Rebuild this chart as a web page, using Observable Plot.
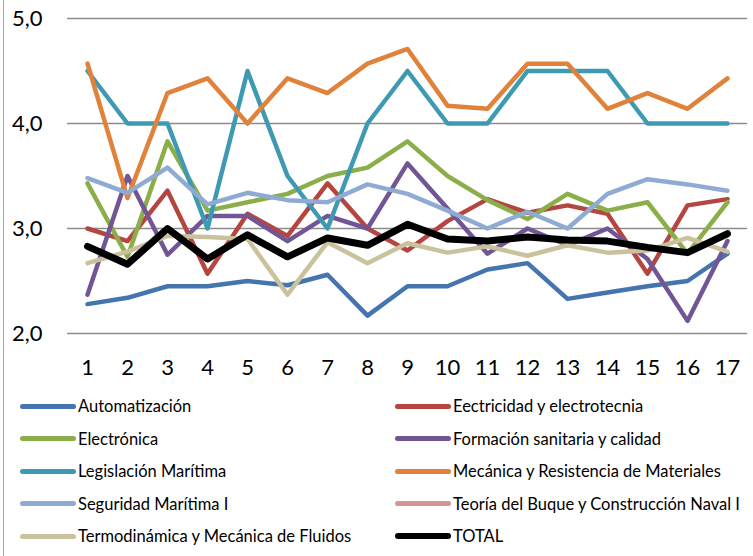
<!DOCTYPE html>
<html>
<head>
<meta charset="utf-8">
<script src="https://cdn.jsdelivr.net/npm/d3@7"></script>
<script src="https://cdn.jsdelivr.net/npm/@observablehq/plot@0.6"></script>
<style>
  body { margin: 0; background: #fff; font-family: Lato, "Open Sans", sans-serif; }
  #wrap { position: relative; width: 753px; height: 556px; overflow: hidden; background: #fff; }
  #border { position: absolute; left: 3px; top: 0; bottom: 0; border-left: 1.5px solid #a6a6a6; }
  #legend { display: grid; grid-template-columns: 375px 358px; grid-auto-rows: 32.5px; padding: 5px 0 0 20px; }
  .item { display: flex; align-items: center; font-size: 16.5px; color: #000; white-space: nowrap; }
  .sw { display: inline-block; width: 56px; height: 5px; border-radius: 3px; margin-right: 2px; }
</style>
</head>
<body>
<div id="wrap"><div id="border"></div><div id="chart"></div><div id="legend"></div></div>
<script>
const periods = [1,2,3,4,5,6,7,8,9,10,11,12,13,14,15,16,17];
const yTicks = [2,3,4,5];

const automatizacion = [2.28,2.34,2.45,2.45,2.50,2.46,2.56,2.17,2.45,2.45,2.61,2.67,2.33,2.39,2.45,2.50,2.76];
const electricidad   = [3.00,2.88,3.36,2.57,3.14,2.93,3.43,3.00,2.79,3.07,3.28,3.15,3.22,3.14,2.57,3.22,3.28];
const electronica    = [3.43,2.73,3.83,3.17,3.25,3.33,3.50,3.58,3.83,3.50,3.27,3.09,3.33,3.17,3.25,2.76,3.25];
const formacion      = [2.37,3.50,2.75,3.12,3.12,2.88,3.12,3.00,3.62,3.19,2.76,3.00,2.84,3.00,2.71,2.12,2.88];
const legislacion    = [4.50,4.00,4.00,3.00,4.50,3.50,3.00,4.00,4.50,4.00,4.00,4.50,4.50,4.50,4.00,4.00,4.00];
const mecanica       = [4.57,3.29,4.29,4.43,4.00,4.43,4.29,4.57,4.71,4.17,4.14,4.57,4.57,4.14,4.29,4.14,4.43];
const seguridad      = [3.48,3.34,3.58,3.23,3.34,3.27,3.25,3.42,3.33,3.17,3.00,3.16,3.00,3.33,3.47,3.42,3.36];
const teoria         = []; // no visible values in the chart
const termodinamica  = [2.67,2.78,2.93,2.92,2.90,2.37,2.87,2.67,2.86,2.77,2.83,2.74,2.84,2.77,2.79,2.91,2.78];
const total          = [2.83,2.66,3.00,2.71,2.94,2.73,2.91,2.84,3.04,2.90,2.88,2.92,2.89,2.88,2.82,2.77,2.95];

const seriesNames = ["Automatización","Eectricidad y electrotecnia","Electrónica","Formación sanitaria y calidad","Legislación Marítima","Mecánica y Resistencia de Materiales","Seguridad Marítima I","Teoría del Buque y Construcción Naval I","Termodinámica y Mecánica de Fluidos","TOTAL"];
const seriesValues = [automatizacion, electricidad, electronica, formacion, legislacion, mecanica, seguridad, teoria, termodinamica, total];
const seriesColors = ["#4575B0","#B4453F","#8CAE4A","#725595","#3E9AB3","#E0823A","#8FABD3","#D59594","#C9C29D","#000000"];

const lineMarks = seriesNames.map((name, s) => {
  const data = seriesValues[s].map((v, i) => ({x: periods[i], y: v}));
  return Plot.line(data, {
    x: "x", y: "y",
    stroke: seriesColors[s],
    strokeWidth: name === "TOTAL" ? 7 : 4.5,
    strokeLinejoin: "round",
    strokeLinecap: "round"
  });
});

const chart = Plot.plot({
  width: 753,
  height: 385,
  marginLeft: 67,
  marginRight: 6,
  marginTop: 18,
  marginBottom: 52,
  style: {fontFamily: "Lato, 'Open Sans', sans-serif", fontSize: "22px", color: "#000", background: "#fff", overflow: "visible"},
  x: {domain: [0.5, 17.5]},
  y: {domain: [2, 5]},
  marks: [
    Plot.ruleY(yTicks, {stroke: "#8c8c8c", strokeWidth: 1.5}),
    ...lineMarks,
    Plot.axisX(periods, {tickSize: 0, tickPadding: 26, tickFormat: d => String(d), fontSize: 22, label: null}),
    Plot.axisY(yTicks, {tickSize: 0, tickPadding: 25, tickFormat: d => d.toFixed(1).replace(".", ","), fontSize: 22, label: null})
  ]
});
document.getElementById("chart").appendChild(chart);

const legend = document.getElementById("legend");
seriesNames.forEach((name, s) => {
  const item = document.createElement("div");
  item.className = "item";
  const sw = document.createElement("span");
  sw.className = "sw";
  sw.style.background = seriesColors[s];
  if (name === "TOTAL") sw.style.height = "6px";
  const label = document.createElement("span");
  label.textContent = name;
  item.appendChild(sw);
  item.appendChild(label);
  legend.appendChild(item);
});
</script>
</body>
</html>
